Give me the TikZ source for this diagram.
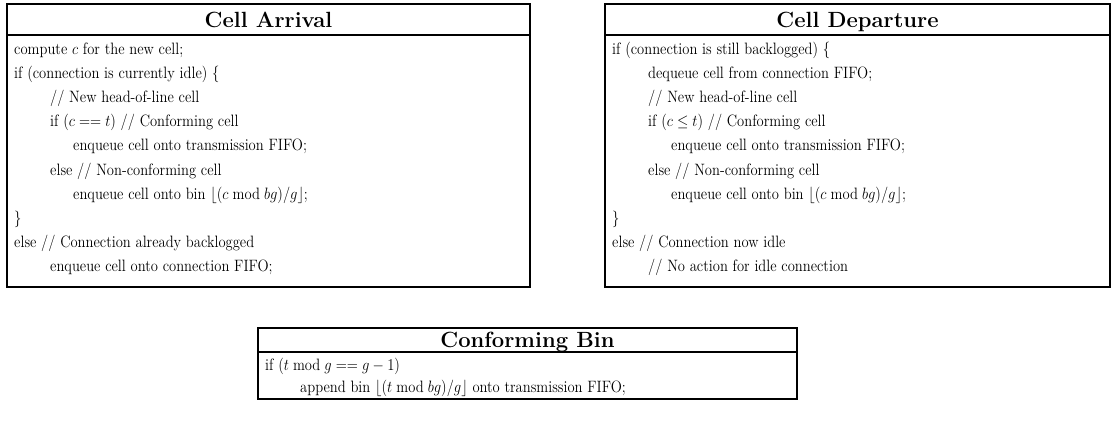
\RequirePackage{fix-cm}
\documentclass[tikz,border=0pt]{standalone}
\usepackage{graphicx}
% code lines are set in a slightly tall face
\newcommand{\codetext}[1]{\scalebox{1.08}[1.22]{#1}}
\tikzset{
  boxframe/.style={line width=2.4pt},
  codeline/.style={anchor=base west, inner sep=0pt, font=\fontsize{13.5}{16}\selectfont},
  boxtitle/.style={anchor=base, inner sep=0pt, font=\fontsize{22}{26}\selectfont\bfseries},
}
\begin{document}
\begin{tikzpicture}[x=1pt,y=-1pt]
\useasboundingbox (0,0) rectangle (1115,424);

% ---- Cell Arrival ----
\draw[boxframe] (7,4) rectangle (530,287);
\draw[boxframe] (7,35) -- (530,35);
\node[boxtitle] (arrT) at (268.5,27) {Cell Arrival};
\node[codeline] (a1)  at (14,54)    {\codetext{compute $c$ for the new cell;}};
\node[codeline] (a2)  at (14,78.2)  {\codetext{if (connection is currently idle) \{}};
\node[codeline] (a3)  at (50,102.4) {\codetext{// New head-of-line cell}};
\node[codeline] (a4)  at (50,126.6) {\codetext{if ($c == t$) // Conforming cell}};
\node[codeline] (a5)  at (73,150.8) {\codetext{enqueue cell onto transmission FIFO;}};
\node[codeline] (a6)  at (50,175)   {\codetext{else // Non-conforming cell}};
\node[codeline] (a7)  at (73,199.2) {\codetext{enqueue cell onto bin $\lfloor (c \bmod bg)/g \rfloor$;}};
\node[codeline] (a8)  at (14,223.4) {\codetext{\}}};
\node[codeline] (a9)  at (14,247.6) {\codetext{else // Connection already backlogged}};
\node[codeline] (a10) at (50,271.8) {\codetext{enqueue cell onto connection FIFO;}};

% ---- Cell Departure ----
\draw[boxframe] (605,4) rectangle (1110,287);
\draw[boxframe] (605,35) -- (1110,35);
\node[boxtitle] (depT) at (857.5,27) {Cell Departure};
\node[codeline] (d1)  at (612,54)    {\codetext{if (connection is still backlogged) \{}};
\node[codeline] (d2)  at (648,78.2)  {\codetext{dequeue cell from connection FIFO;}};
\node[codeline] (d3)  at (648,102.4) {\codetext{// New head-of-line cell}};
\node[codeline] (d4)  at (648,126.6) {\codetext{if ($c \le t$) // Conforming cell}};
\node[codeline] (d5)  at (671,150.8) {\codetext{enqueue cell onto transmission FIFO;}};
\node[codeline] (d6)  at (648,175)   {\codetext{else // Non-conforming cell}};
\node[codeline] (d7)  at (671,199.2) {\codetext{enqueue cell onto bin $\lfloor (c \bmod bg)/g \rfloor$;}};
\node[codeline] (d8)  at (612,223.4) {\codetext{\}}};
\node[codeline] (d9)  at (612,247.6) {\codetext{else // Connection now idle}};
\node[codeline] (d10) at (648,271.8) {\codetext{// No action for idle connection}};

% ---- Conforming Bin ----
\draw[boxframe] (258,328) rectangle (797,399);
\draw[boxframe] (258,352) -- (797,352);
\node[boxtitle] (binT) at (527.5,347) {Conforming Bin};
\node[codeline] (b1) at (265,370) {\codetext{if ($t \bmod g == g - 1$)}};
\node[codeline] (b2) at (300,392) {\codetext{append bin $\lfloor (t \bmod bg)/g \rfloor$ onto transmission FIFO;}};
\end{tikzpicture}
\end{document}
